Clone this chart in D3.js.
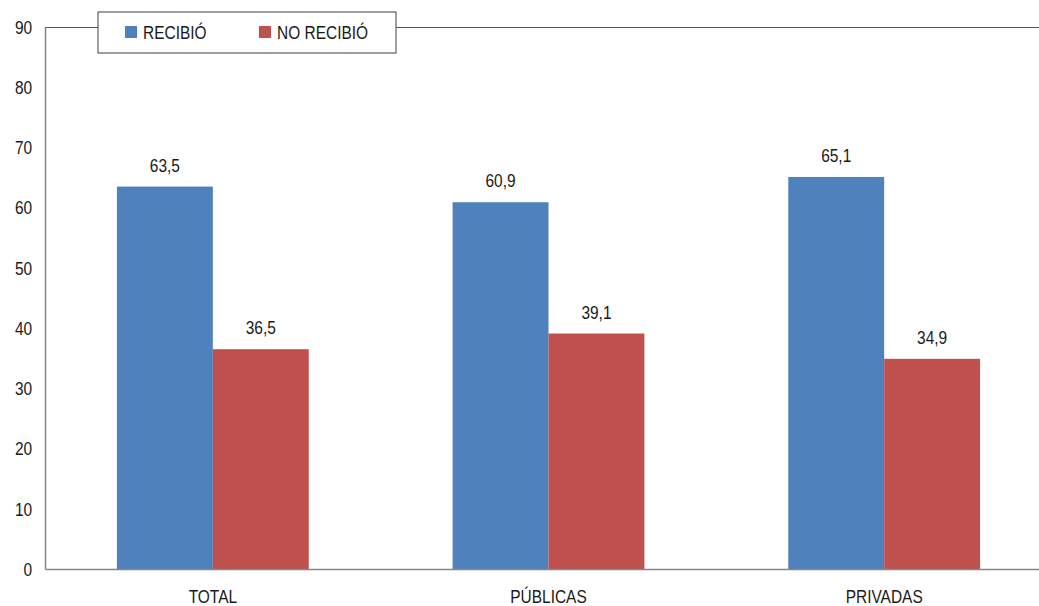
<!DOCTYPE html>
<html>
<head>
<meta charset="utf-8">
<script src="https://cdn.jsdelivr.net/npm/d3@7"></script>
<style>
  body { margin: 0; background: #fff; }
  svg text { font-family: "Liberation Sans Narrow", "Arial Narrow", "Liberation Sans", sans-serif; fill: #1a1a1a; }
</style>
</head>
<body>
<div id="chart"></div>
<script>
// datos
const categorias = ["TOTAL", "PÚBLICAS", "PRIVADAS"];
const series = ["RECIBIÓ", "NO RECIBIÓ"];
const recibio = [63.5, 60.9, 65.1];
const noRecibio = [36.5, 39.1, 34.9];
const colores = ["#4f81bd", "#c0504d"];
const yTicks = [0, 10, 20, 30, 40, 50, 60, 70, 80, 90];

const width = 1039, height = 606;
const margin = { top: 27, right: -13, bottom: 37, left: 45 };
const w = width - margin.left - margin.right;
const h = height - margin.top - margin.bottom;
const fs = "18px";      // tamaño de letra
const sx = 0.86;        // letra angosta (simula Arial Narrow)

const svg = d3.select("#chart").append("svg")
    .attr("width", width).attr("height", height);
const g = svg.append("g").attr("transform", `translate(${margin.left},${margin.top})`);

const x0 = d3.scaleBand().domain(categorias).range([0, w]).paddingInner(0.4286).paddingOuter(0.2143);
const x1 = d3.scaleBand().domain(series).range([0, x0.bandwidth()]);
const y = d3.scaleLinear().domain([0, 90]).range([h, 0]);

const fmt = v => d3.format(".1f")(v).replace(".", ",");

// borde superior
g.append("line").attr("x1", 0).attr("x2", width).attr("y1", 0.5).attr("y2", 0.5)
    .attr("stroke", "#595959").attr("stroke-width", 1.2);

// barras
const datos = categorias.map((c, i) => ({ cat: c, vals: [
    { s: series[0], v: recibio[i] }, { s: series[1], v: noRecibio[i] } ] }));

const grupos = g.selectAll(".grupo").data(datos).enter().append("g")
    .attr("transform", d => `translate(${x0(d.cat)},0)`);

grupos.selectAll("rect").data(d => d.vals).enter().append("rect")
    .attr("x", d => x1(d.s))
    .attr("width", x1.bandwidth())
    .attr("y", d => y(d.v))
    .attr("height", d => h - y(d.v))
    .attr("fill", (d, i) => colores[i]);

grupos.selectAll(".etq").data(d => d.vals).enter().append("g")
    .attr("transform", d => `translate(${x1(d.s) + x1.bandwidth() / 2},${y(d.v) - 15}) scale(${sx},1)`)
    .append("text")
    .attr("text-anchor", "middle")
    .style("font-size", fs)
    .text(d => fmt(d.v));

// ejes
const yAxis = g.append("g").call(d3.axisLeft(y).tickValues(yTicks).tickSize(0).tickPadding(15));
yAxis.select(".domain").attr("stroke", "#868686").attr("stroke-width", 1.5);
yAxis.selectAll("text").style("font-size", fs).attr("dy", "0.35em").attr("transform", `scale(${sx},1)`);

const xAxis = g.append("g").attr("transform", `translate(0,${h})`)
    .call(d3.axisBottom(x0).tickSize(0).tickPadding(21));
xAxis.select(".domain").attr("stroke", "#868686").attr("stroke-width", 1.5);
xAxis.selectAll("text").style("font-size", fs).attr("transform", `scale(${sx},1)`);

// leyenda
const leg = svg.append("g").attr("transform", "translate(98,12)");
leg.append("rect").attr("width", 298).attr("height", 41)
    .attr("fill", "#fff").attr("stroke", "#404040").attr("stroke-width", 1);
const items = leg.selectAll(".item").data(series).enter().append("g")
    .attr("transform", (d, i) => `translate(${i === 0 ? 27 : 161},14)`);
items.append("rect").attr("width", 12).attr("height", 12).attr("fill", (d, i) => colores[i]);
items.append("text").attr("transform", `translate(18,12.5) scale(${sx},1)`)
    .style("font-size", fs).text(d => d);
</script>
</body>
</html>
